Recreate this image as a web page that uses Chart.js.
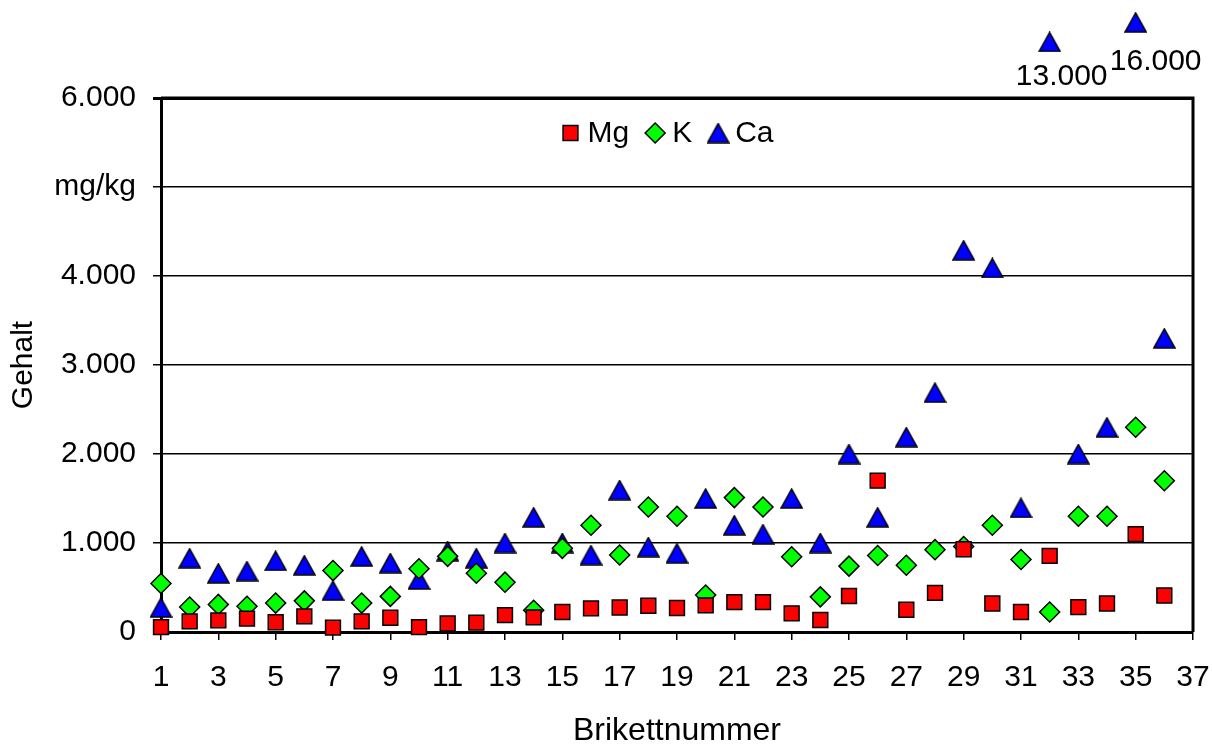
<!DOCTYPE html>
<html>
<head>
<meta charset="utf-8">
<script src="https://cdn.jsdelivr.net/npm/chart.js@4/dist/chart.umd.min.js"></script>
<style>
  html, body { margin: 0; padding: 0; background: #fff; }
  #wrap { width: 1212px; height: 746px; }
</style>
</head>
<body>
<div id="wrap"><canvas id="gehaltChart"></canvas></div>
<script>
// Brikettnummer 1..36
const briketts = [1, 2, 3, 4, 5, 6, 7, 8, 9, 10, 11, 12, 13, 14, 15, 16, 17, 18,
  19, 20, 21, 22, 23, 24, 25, 26, 27, 28, 29, 30, 31, 32, 33, 34, 35, 36];

// Gehalt in mg/kg
const mg = [55, 120, 130, 150, 110, 175, 50, 120, 160, 55, 95, 105, 190, 165, 225, 265, 275, 295,
  270, 300, 335, 335, 210, 135, 405, 1700, 250, 440, 930, 320, 225, 855, 280, 320, 1100, 410];
const k = [545, 280, 310, 290, 325, 350, 690, 325, 400, 710, 850, 660, 560, 245, 940, 1200, 865, 1405,
  1300, 415, 1510, 1405, 845, 395, 740, 860, 750, 925, 960, 1200, 815, 225, 1300, 1300, 2300, 1700];
const ca = [275, 830, 660, 685, 800, 750, 465, 850, 775, 590, 910, 830, 1000, 1290, 1000, 865, 1595, 955,
  885, 1500, 1200, 1100, 1500, 1000, 2000, 1290, 2190, 2690, 4290, 4090, 1395, null, 2000, 2300, null, 3300];

// Ca-Ausreisser: oberhalb der Achse gezeichnet, echter Wert als Beschriftung
const caOutlierNr = [32, 35];
const caOutlierValue = [13000, 16000];
const caOutlierDrawnAt = [6630, 6850];

const yTicks = [0, 1000, 2000, 3000, 4000, 5000, 6000];

const fmt = v => String(v).replace(/\B(?=(\d{3})+(?!\d))/g, '.');
const toPoints = arr => briketts.map((b, i) => ({ x: b, y: arr[i] }));

// Dreieck wie in Excel: in der Box zentriert
function triangleImg(w, h) {
    const c = document.createElement('canvas');
    c.width = w + 2;
    c.height = h + 2;
    const g = c.getContext('2d');
    g.beginPath();
    g.moveTo(c.width / 2, 1);
    g.lineTo(w + 1, h + 1);
    g.lineTo(1, h + 1);
    g.closePath();
    g.fillStyle = '#0000FF';
    g.fill();
    g.lineWidth = 1.5;
    g.strokeStyle = '#000';
    g.stroke();
    return c;
}
const tri = triangleImg(21, 19);

const FAMILY = '"Liberation Sans", Arial, sans-serif';
const FONT = { family: FAMILY, size: 30 };

const frame = {
    id: 'frame',
    beforeDatasetsDraw(chart) {
        const { ctx, chartArea: a } = chart;
        ctx.save();
        ctx.strokeStyle = '#000';
        ctx.lineWidth = 3;
        ctx.beginPath();
        ctx.moveTo(a.left, a.top);
        ctx.lineTo(a.right, a.top);
        ctx.lineTo(a.right, a.bottom);
        ctx.stroke();
        ctx.restore();
    }
};

// Ausreisser liegen ausserhalb der Zeichenflaeche, daher hier selbst zeichnen
const outliers = {
    id: 'outliers',
    afterDatasetsDraw(chart) {
        const { ctx } = chart;
        const meta = chart.getDatasetMeta(3);
        const dx = [12, 20];
        const dy = [35, 39];
        ctx.save();
        ctx.font = `${FONT.size}px ${FAMILY}`;
        ctx.fillStyle = '#000';
        ctx.textAlign = 'center';
        ctx.textBaseline = 'middle';
        meta.data.forEach((el, i) => {
            ctx.drawImage(tri, el.x - tri.width / 2, el.y - tri.height / 2);
            ctx.fillText(fmt(caOutlierValue[i]), el.x + dx[i], el.y + dy[i]);
        });
        ctx.restore();
    }
};

// Legende in einer Zeile oben in der Zeichenflaeche
const inlineLegend = {
    id: 'inlineLegend',
    afterDatasetsDraw(chart) {
        const { ctx, chartArea: a } = chart;
        const sets = chart.data.datasets.slice(0, 3);
        ctx.save();
        ctx.font = `${FONT.size}px ${FAMILY}`;
        const widths = sets.map(d => ctx.measureText(d.label).width);
        const total = widths.reduce((s, w) => s + 27 + w, 0) + 16 * (sets.length - 1);
        let x = (a.left + a.right) / 2 - 10 - total / 2;
        const y = a.top + 35;
        sets.forEach((d, i) => {
            const cx = x + 10;
            if (d.pointStyle instanceof HTMLCanvasElement) {
                ctx.drawImage(d.pointStyle, cx - d.pointStyle.width / 2, y - d.pointStyle.height / 2);
            } else {
                ctx.fillStyle = d.backgroundColor;
                ctx.strokeStyle = d.borderColor;
                ctx.lineWidth = d.borderWidth;
                ctx.beginPath();
                if (d.pointStyle === 'rect') {
                    const s = Math.SQRT1_2 * d.pointRadius;
                    ctx.rect(cx - s, y - s, 2 * s, 2 * s);
                } else {
                    const r = d.pointRadius;
                    ctx.moveTo(cx, y - r);
                    ctx.lineTo(cx + r, y);
                    ctx.lineTo(cx, y + r);
                    ctx.lineTo(cx - r, y);
                    ctx.closePath();
                }
                ctx.fill();
                ctx.stroke();
            }
            ctx.fillStyle = '#000';
            ctx.textAlign = 'left';
            ctx.textBaseline = 'middle';
            ctx.fillText(d.label, x + 27, y + 1);
            x += 27 + widths[i] + 16;
        });
        ctx.restore();
    }
};

new Chart(document.getElementById('gehaltChart'), {
    type: 'scatter',
    data: {
        datasets: [
            {
                label: 'Mg', data: toPoints(mg),
                pointStyle: 'rect', pointRadius: 10.5, pointHoverRadius: 10.5,
                backgroundColor: '#FF0000', borderColor: '#000', borderWidth: 1.5, clip: false
            },
            {
                label: 'K', data: toPoints(k),
                pointStyle: 'rectRot', pointRadius: 10, pointHoverRadius: 10,
                backgroundColor: '#00FF00', borderColor: '#000', borderWidth: 1.5, clip: false
            },
            {
                label: 'Ca', data: toPoints(ca),
                pointStyle: tri, pointRadius: 11,
                backgroundColor: '#0000FF', borderColor: '#000', borderWidth: 1.5, clip: false
            },
            {
                label: 'Ca-Ausreisser',
                data: caOutlierNr.map((b, i) => ({ x: b, y: caOutlierDrawnAt[i] })),
                pointStyle: tri, pointRadius: 11,
                backgroundColor: '#0000FF', borderColor: '#000', borderWidth: 1.5, clip: false
            }
        ]
    },
    options: {
        responsive: true,
        maintainAspectRatio: false,
        animation: false,
        events: [],
        layout: { padding: { top: 98, right: 19, left: 0, bottom: 0 } },
        plugins: {
            tooltip: { enabled: false },
            legend: { display: false }
        },
        scales: {
            x: {
                type: 'linear',
                min: 1,
                max: 37,
                afterFit: s => { s.height = 114; s.paddingLeft = 0; s.paddingRight = 0; },
                afterBuildTicks: s => { s.ticks = briketts.concat([37]).filter(v => v % 2 === 1).map(v => ({ value: v })); },
                ticks: { color: '#000', font: FONT, padding: 20, maxRotation: 0 },
                grid: { drawOnChartArea: false, drawTicks: true, tickLength: 8, color: '#000', lineWidth: 1.5 },
                border: { color: '#000', width: 3 },
                title: {
                    display: true, text: 'Brikettnummer', color: '#000',
                    font: { family: FAMILY, size: 32, lineHeight: 1 }, padding: { top: 0, bottom: -1 }
                }
            },
            y: {
                min: 0,
                max: 6000,
                afterFit: s => { s.width = 161; s.paddingTop = 0; s.paddingBottom = 0; },
                afterBuildTicks: s => { s.ticks = yTicks.map(v => ({ value: v })); },
                ticks: {
                    color: '#000', font: FONT, padding: 17,
                    callback: v => v === 5000 ? 'mg/kg' : fmt(v)
                },
                grid: {
                    color: '#000',
                    lineWidth: c => (c.tick && c.tick.value === 6000) ? 3 : 1.5,
                    tickLength: 8
                },
                border: { color: '#000', width: 3 },
                title: {
                    display: true, text: 'Gehalt', color: '#000',
                    font: { family: FAMILY, size: 30, lineHeight: 1.2 }, padding: { top: 6, bottom: 0 }
                }
            }
        }
    },
    plugins: [frame, outliers, inlineLegend]
});
</script>
</body>
</html>
